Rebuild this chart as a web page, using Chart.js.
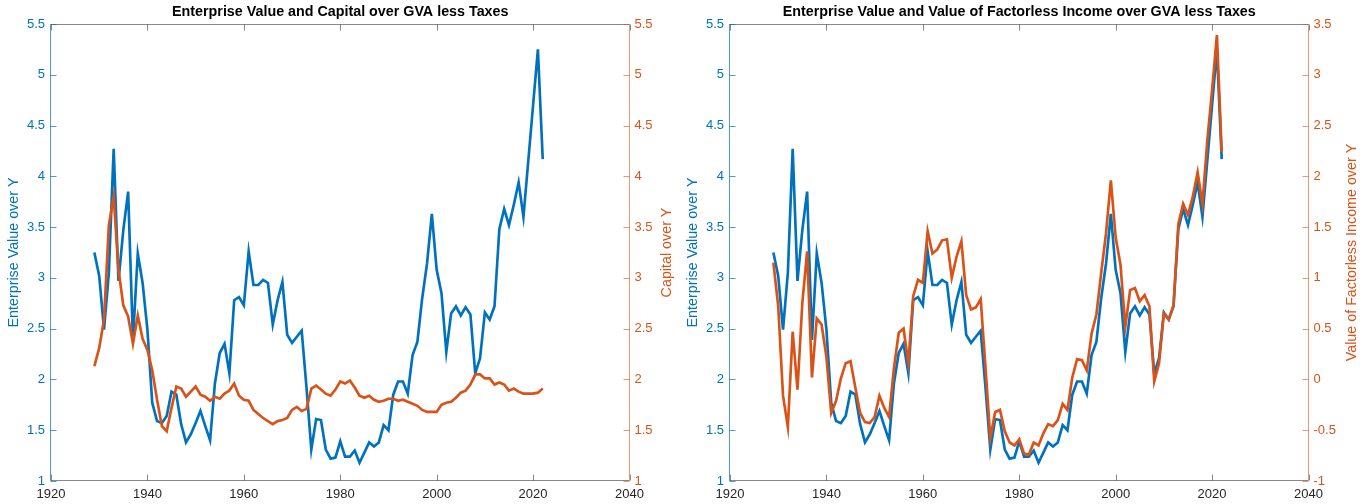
<!DOCTYPE html>
<html>
<head>
<meta charset="utf-8">
<script src="https://cdn.jsdelivr.net/npm/chart.js@4.4.1/dist/chart.umd.min.js"></script>
<style>
  html, body { margin: 0; padding: 0; background: #ffffff; }
  #wrap { position: relative; width: 1371px; height: 504px; overflow: hidden; }
  .panel { position: absolute; top: 0; height: 504px; }
  #p1 { left: 0; width: 680px; }
  #p2 { left: 680px; width: 691px; }
</style>
</head>
<body>
<div id="wrap">
  <div class="panel" id="p1"><canvas id="c1"></canvas></div>
  <div class="panel" id="p2"><canvas id="c2"></canvas></div>
</div>
<script>
// Annual observations, 1929-2022
const years = [
  1929, 1930, 1931, 1932, 1933, 1934, 1935, 1936, 1937, 1938,
  1939, 1940, 1941, 1942, 1943, 1944, 1945, 1946, 1947, 1948,
  1949, 1950, 1951, 1952, 1953, 1954, 1955, 1956, 1957, 1958,
  1959, 1960, 1961, 1962, 1963, 1964, 1965, 1966, 1967, 1968,
  1969, 1970, 1971, 1972, 1973, 1974, 1975, 1976, 1977, 1978,
  1979, 1980, 1981, 1982, 1983, 1984, 1985, 1986, 1987, 1988,
  1989, 1990, 1991, 1992, 1993, 1994, 1995, 1996, 1997, 1998,
  1999, 2000, 2001, 2002, 2003, 2004, 2005, 2006, 2007, 2008,
  2009, 2010, 2011, 2012, 2013, 2014, 2015, 2016, 2017, 2018,
  2019, 2020, 2021, 2022
];

// Enterprise value / (GVA less taxes)
const enterpriseValue = [
  3.25, 3.02, 2.49, 3.05, 4.27, 2.97, 3.47, 3.85, 2.39, 3.24,
  2.95, 2.49, 1.77, 1.59, 1.57, 1.64, 1.88, 1.85, 1.56, 1.38,
  1.46, 1.57, 1.69, 1.54, 1.40, 1.96, 2.26, 2.35, 2.06, 2.78,
  2.81, 2.73, 3.26, 2.93, 2.93, 2.98, 2.95, 2.54, 2.78, 2.96,
  2.44, 2.36, 2.42, 2.48, 1.92, 1.31, 1.61, 1.60, 1.31, 1.22,
  1.23, 1.39, 1.24, 1.24, 1.30, 1.18, 1.28, 1.38, 1.34, 1.38,
  1.55, 1.50, 1.85, 1.98, 1.98, 1.86, 2.24, 2.37, 2.80, 3.14,
  3.63, 3.08, 2.85, 2.27, 2.65, 2.72, 2.63, 2.71, 2.64, 2.06,
  2.21, 2.66, 2.59, 2.72, 3.48, 3.68, 3.52, 3.72, 3.94, 3.60,
  4.15, 4.70, 5.25, 4.17
];

// Capital / (GVA less taxes)
const capital = [
  2.13, 2.31, 2.59, 3.52, 3.80, 3.08, 2.73, 2.62, 2.35, 2.63,
  2.40, 2.29, 2.09, 1.80, 1.54, 1.49, 1.72, 1.93, 1.91, 1.83,
  1.88, 1.93, 1.85, 1.83, 1.79, 1.83, 1.81, 1.86, 1.89, 1.96,
  1.84, 1.80, 1.79, 1.70, 1.66, 1.62, 1.59, 1.56, 1.59, 1.60,
  1.62, 1.70, 1.73, 1.69, 1.71, 1.91, 1.94, 1.90, 1.86, 1.84,
  1.90, 1.98, 1.96, 1.99, 1.92, 1.84, 1.82, 1.84, 1.80, 1.78,
  1.79, 1.81, 1.81, 1.79, 1.80, 1.78, 1.76, 1.74, 1.70, 1.68,
  1.68, 1.68, 1.75, 1.77, 1.78, 1.82, 1.87, 1.89, 1.95, 2.05,
  2.05, 2.01, 2.01, 1.95, 1.97, 1.95, 1.89, 1.91, 1.88, 1.86,
  1.86, 1.86, 1.87, 1.91
];

// Value of factorless income / (GVA less taxes)
const factorlessValue = [
  1.15, 0.72, -0.16, -0.47, 0.47, -0.10, 0.75, 1.26, 0.02, 0.60,
  0.54, 0.22, -0.33, -0.21, 0.01, 0.16, 0.18, -0.08, -0.33, -0.42,
  -0.43, -0.37, -0.16, -0.28, -0.37, 0.11, 0.46, 0.50, 0.16, 0.82,
  0.98, 0.95, 1.46, 1.24, 1.28, 1.37, 1.38, 1.00, 1.21, 1.36,
  0.83, 0.69, 0.71, 0.79, 0.12, -0.58, -0.32, -0.30, -0.51, -0.62,
  -0.65, -0.59, -0.73, -0.74, -0.62, -0.65, -0.53, -0.44, -0.46, -0.40,
  -0.24, -0.30, 0.02, 0.20, 0.19, 0.09, 0.45, 0.64, 1.05, 1.44,
  1.96, 1.40, 1.13, 0.52, 0.88, 0.90, 0.77, 0.83, 0.72, -0.02,
  0.16, 0.65, 0.59, 0.73, 1.53, 1.73, 1.62, 1.80, 2.04, 1.73,
  2.35, 2.85, 3.39, 2.24
];

// Axis ranges and tick spacing
const xRange = [1920, 2040];
const xStep = 20;
const evRange = [1, 5.5];
const capitalRange = [1, 5.5];
const factorlessRange = [-1, 3.5];
const yStep = 0.5;

const BLUE = '#0072BD';
const ORANGE = '#D95319';
const AXIS = '#262626';
const FONT = "'Liberation Sans', Arial, Helvetica, sans-serif";

Chart.defaults.font.family = FONT;
Chart.defaults.animation = false;

const toPoints = (vals) => years.map((yr, i) => ({ x: yr, y: vals[i] }));
const fmtY = (v) => String(Math.round(v * 10) / 10);

// Axes box, inward tick marks and rotated right-hand axis title
const boxPlugin = {
  id: 'mBox',
  afterDraw(chart, args, opts) {
    const { ctx, chartArea: a, scales } = chart;
    const L = Math.round(a.left) - 0.5, R = Math.round(a.right) - 0.5;
    const T = Math.round(a.top) + 0.5, B = Math.round(a.bottom) - 0.5;
    const tl = 6;
    ctx.save();
    ctx.lineWidth = 1;

    ctx.strokeStyle = 'rgba(38,38,38,0.55)';
    ctx.beginPath();
    ctx.moveTo(L, B); ctx.lineTo(R, B);
    ctx.moveTo(L, T); ctx.lineTo(R, T);
    scales.x.ticks.forEach(t => {
      const px = Math.round(scales.x.getPixelForValue(t.value)) + 0.5;
      ctx.moveTo(px, B); ctx.lineTo(px, B - tl);
      ctx.moveTo(px, T); ctx.lineTo(px, T + tl);
    });
    ctx.stroke();

    ctx.strokeStyle = 'rgba(0,114,189,0.7)';
    ctx.beginPath();
    ctx.moveTo(L, T); ctx.lineTo(L, B);
    scales.y.ticks.forEach(t => {
      const py = Math.round(scales.y.getPixelForValue(t.value)) + 0.5;
      ctx.moveTo(L, py); ctx.lineTo(L + tl, py);
    });
    ctx.stroke();

    ctx.strokeStyle = 'rgba(217,83,25,0.6)';
    ctx.beginPath();
    ctx.moveTo(R, T); ctx.lineTo(R, B);
    scales.y2.ticks.forEach(t => {
      const py = Math.round(scales.y2.getPixelForValue(t.value)) + 0.5;
      ctx.moveTo(R, py); ctx.lineTo(R - tl, py);
    });
    ctx.stroke();

    if (opts.rightTitle) {
      ctx.fillStyle = ORANGE;
      ctx.font = '14.3px ' + FONT;
      ctx.textAlign = 'center';
      ctx.textBaseline = 'middle';
      ctx.translate(chart.width - opts.rightTitleOffset, (a.top + a.bottom) / 2);
      ctx.rotate(-Math.PI / 2);
      ctx.fillText(opts.rightTitle, 0, 0);
    }
    ctx.restore();
  }
};

function makeChart(id, cfg) {
  return new Chart(document.getElementById(id), {
    type: 'line',
    data: {
      datasets: [
        {
          data: toPoints(enterpriseValue), yAxisID: 'y', order: 2,
          borderColor: BLUE, borderWidth: 2.67, pointRadius: 0, tension: 0,
          fill: false
        },
        {
          data: toPoints(cfg.rightValues), yAxisID: 'y2', order: 1,
          borderColor: ORANGE, borderWidth: 2.67, pointRadius: 0, tension: 0,
          fill: false
        }
      ]
    },
    options: {
      responsive: true,
      maintainAspectRatio: false,
      layout: { padding: 0 },
      plugins: {
        legend: { display: false },
        tooltip: { enabled: false },
        title: {
          display: true, text: cfg.title, color: '#000000', fullSize: false,
          font: { size: 14.3, weight: 'bold' }, padding: { top: 3, bottom: 3.84 }
        },
        mBox: { rightTitle: cfg.rightTitle, rightTitleOffset: cfg.rightTitleOffset }
      },
      scales: {
        x: {
          type: 'linear', min: xRange[0], max: xRange[1],
          ticks: {
            stepSize: xStep, color: AXIS, font: { size: 13 }, padding: 6,
            maxRotation: 0, autoSkip: false, callback: (v) => String(v)
          },
          grid: { display: false, drawTicks: false },
          border: { display: false },
          afterFit: (s) => { s.height = 23; }
        },
        y: {
          position: 'left', min: evRange[0], max: evRange[1],
          ticks: { stepSize: yStep, color: BLUE, font: { size: 13 }, padding: 6, autoSkip: false, callback: fmtY },
          grid: { display: false, drawTicks: false },
          border: { display: false },
          title: {
            display: true, text: 'Enterprise Value over Y', color: BLUE,
            font: { size: 14.3 }, padding: { top: cfg.leftTitlePad, bottom: 0 }
          },
          afterFit: (s) => { s.width = cfg.leftWidth; }
        },
        y2: {
          position: 'right', min: cfg.rightRange[0], max: cfg.rightRange[1],
          ticks: { stepSize: yStep, color: ORANGE, font: { size: 13 }, padding: 5, autoSkip: false, callback: fmtY },
          grid: { display: false, drawTicks: false },
          border: { display: false },
          afterFit: (s) => { s.width = cfg.rightWidth; }
        }
      }
    },
    plugins: [boxPlugin]
  });
}

makeChart('c1', {
  title: 'Enterprise Value and Capital over GVA less Taxes',
  rightValues: capital,
  rightRange: capitalRange,
  rightTitle: 'Capital over Y',
  rightTitleOffset: 13,
  leftTitlePad: 5.4,
  leftWidth: 51,
  rightWidth: 50.5
});

makeChart('c2', {
  title: 'Enterprise Value and Value of Factorless Income over GVA less Taxes',
  rightValues: factorlessValue,
  rightRange: factorlessRange,
  rightTitle: 'Value of Factorless Income over Y',
  rightTitleOffset: 19,
  leftTitlePad: 4.4,
  leftWidth: 50,
  rightWidth: 62.5
});
</script>
</body>
</html>
